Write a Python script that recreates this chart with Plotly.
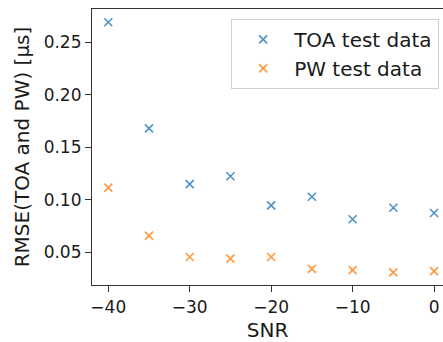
import plotly.graph_objects as go

snr = [-40, -35, -30, -25, -20, -15, -10, -5, 0]
toa_rmse = [0.269, 0.168, 0.115, 0.1225, 0.0947, 0.103, 0.0816, 0.0925, 0.0875]
pw_rmse = [0.1116, 0.066, 0.0456, 0.0441, 0.0456, 0.0344, 0.0332, 0.0310, 0.0322]

x_ticks = [-40, -30, -20, -10, 0]
y_ticks = [0.05, 0.10, 0.15, 0.20, 0.25]

FONT = "DejaVu Sans"
TXT = "#1a1a1a"

fig = go.Figure()
fig.add_trace(go.Scatter(
    x=snr, y=toa_rmse, mode="markers", name="TOA test data",
    marker=dict(symbol="x-thin", size=8, color="#1f77b4",
                line=dict(width=1.6, color="rgba(31,119,180,0.8)")),
))
fig.add_trace(go.Scatter(
    x=snr, y=pw_rmse, mode="markers", name="PW test data",
    marker=dict(symbol="x-thin", size=8, color="#ff7f0e",
                line=dict(width=1.6, color="rgba(255,127,14,0.8)")),
))

fig.update_layout(
    width=443, height=342,
    margin=dict(l=92, r=0, t=9, b=53),
    plot_bgcolor="white", paper_bgcolor="white",
    font=dict(family=FONT, color=TXT),
    showlegend=True,
    legend=dict(
        x=0.989, y=0.964, xanchor="right", yanchor="top",
        bgcolor="rgba(255,255,255,0.8)", bordercolor="#d0d0d0", borderwidth=1,
        font=dict(family=FONT, size=20, color=TXT),
        itemwidth=52,
    ),
)
fig.update_xaxes(
    range=[-42, 1.1], tickvals=x_ticks, showgrid=False, zeroline=False,
    showline=True, mirror=True, linecolor="#333", linewidth=1.2,
    ticks="outside", ticklen=6, tickcolor="#333", tickwidth=1.2,
    tickfont=dict(family=FONT, size=17, color=TXT),
    title=dict(text="SNR", font=dict(family=FONT, size=20, color=TXT), standoff=11),
)
fig.update_yaxes(
    range=[0.019, 0.2816], tickvals=y_ticks, tickformat=".2f", showgrid=False, zeroline=False,
    showline=True, mirror=False, linecolor="#333", linewidth=1.2,
    ticks="outside", ticklen=6, tickcolor="#333", tickwidth=1.2,
    tickfont=dict(family=FONT, size=17, color=TXT),
    title=dict(text="RMSE(TOA and PW) [µs]", font=dict(family=FONT, size=20, color=TXT), standoff=8),
)

fig.write_html("out.html")
